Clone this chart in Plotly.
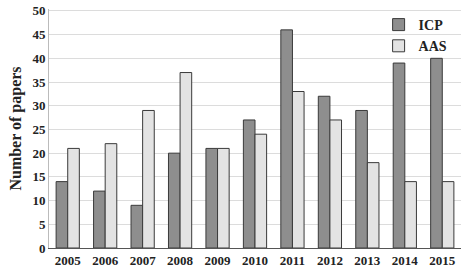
import plotly.graph_objects as go

years = ["2005", "2006", "2007", "2008", "2009", "2010", "2011", "2012", "2013", "2014", "2015"]
icp = [14, 12, 9, 20, 21, 27, 46, 32, 29, 39, 40]
aas = [21, 22, 29, 37, 21, 24, 33, 27, 18, 14, 14]
y_ticks = [0, 5, 10, 15, 20, 25, 30, 35, 40, 45, 50]

font_family = "Liberation Serif, Times New Roman, serif"

fig = go.Figure()
fig.add_trace(go.Bar(x=years, y=icp, name="<b>ICP</b>",
                     marker=dict(color="#8e8e8e", line=dict(color="#3a3a3a", width=1))))
fig.add_trace(go.Bar(x=years, y=aas, name="<b>AAS</b>",
                     marker=dict(color="#e3e3e3", line=dict(color="#3a3a3a", width=1))))

fig.update_layout(
    width=465, height=272,
    margin=dict(l=49, r=4, t=5, b=18),
    paper_bgcolor="white", plot_bgcolor="white",
    barmode="group", bargap=0.38, bargroupgap=0,
    font=dict(family=font_family, color="#222222", size=13),
    showlegend=True,
    legend=dict(x=0.80, y=1.0, xanchor="left", yanchor="top",
                bgcolor="rgba(0,0,0,0)", font=dict(size=14, family=font_family),
                tracegroupgap=0, itemwidth=30),
    xaxis=dict(tickfont=dict(size=13, family=font_family), showline=True,
               linecolor="#555555", linewidth=1, ticks="", showgrid=False,
               tickvals=years, ticktext=[f"<b>{y}</b>" for y in years]),
    yaxis=dict(range=[0, 50.4], tickvals=y_ticks, ticktext=[f"<b>{v}</b>" for v in y_ticks],
               showgrid=True, gridcolor="#dcdcdc", gridwidth=1,
               showline=True, linecolor="#bbbbbb", linewidth=1, ticks="",
               ticklabeloverflow="allow",
               tickfont=dict(size=13, family=font_family),
               title=dict(text="<b>Number of papers</b>", font=dict(size=16, family=font_family),
                          standoff=6), zeroline=False),
)

fig.write_html("out.html")
